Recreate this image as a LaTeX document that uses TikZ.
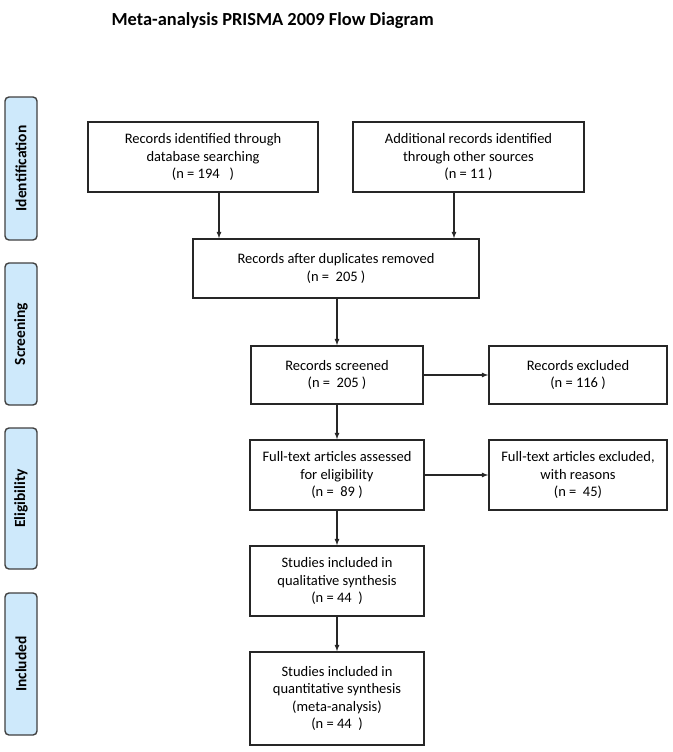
\documentclass[tikz,border=0pt]{standalone}
\usepackage{fontspec}
\setmainfont{Carlito}
\usepackage{tikz}
\usetikzlibrary{arrows,positioning,calc}
\definecolor{phaseblue}{RGB}{206,233,251}

\begin{document}
\begin{tikzpicture}[x=1pt,y=-1pt,>=latex,semithick,
        record/.style={rectangle,draw=black!85,line width=1.4pt,align=center,
          font=\fontsize{14.5}{17.5}\selectfont,inner sep=2pt},
        phase/.style={rectangle,rounded corners=4pt,draw=black!75,line width=1.4pt,
          fill=phaseblue,minimum width=32pt,font=\bfseries\fontsize{15.5}{17}\selectfont},
        flow/.style={->,line width=1.2pt,black!85}]
        \useasboundingbox (0,0) rectangle (672,752);
        \node[anchor=west,font=\bfseries\fontsize{18.4}{21}\selectfont] at (108,21) (title) {Meta-analysis PRISMA 2009 Flow Diagram};
        % phases
        \node[phase,minimum height=143pt] at (21,168.5) (ident) {\rotatebox{90}{Identification}};
        \node[phase,minimum height=142pt] at (21,334) (screen) {\rotatebox{90}{Screening}};
        \node[phase,minimum height=141pt] at (21,498.5) (elig) {\rotatebox{90}{Eligibility}};
        \node[phase,minimum height=142pt] at (21,664) (incl) {\rotatebox{90}{Included}};
        % records
        \node[record,minimum width=230pt,minimum height=70pt] at (203,157) (db) {Records identified through\\database searching\\(n = 194\ \ \ )};
        \node[record,minimum width=231pt,minimum height=70pt] at (468.5,157) (other) {Additional records identified\\through other sources\\(n = 11 )};
        \node[record,minimum width=286pt,minimum height=59pt] at (336,268.5) (dup) {Records after duplicates removed\\(n =\ \ 205 )};
        \node[record,minimum width=172pt,minimum height=58pt] at (337,375) (scr) {Records screened\\(n =\ \ 205 )};
        \node[record,minimum width=178pt,minimum height=58pt] at (578,375) (exc) {Records excluded\\(n = 116 )};
        \node[record,minimum width=174pt,minimum height=70pt] at (337,475) (full) {Full-text articles assessed\\for eligibility\\(n =\ \ 89 )};
        \node[record,minimum width=178pt,minimum height=70pt] at (578,475) (fexc) {Full-text articles excluded,\\with reasons\\(n =\ \ 45)};
        \node[record,minimum width=174pt,minimum height=70pt] at (337,581) (qual) {Studies included in\\qualitative synthesis\\(n = 44\ \ )};
        \node[record,minimum width=174pt,minimum height=93pt] at (337,698.5) (quant) {Studies included in\\quantitative synthesis\\(meta-analysis)\\(n = 44\ \ )};
        % arrows
        \draw[flow] ([xshift=16pt]db.south) -- ([xshift=16pt]db.south |- dup.north);
        \draw[flow] ([xshift=-14.5pt]other.south) -- ([xshift=-14.5pt]other.south |- dup.north);
        \draw[flow] (dup.south -| scr.north) -- (scr.north);
        \draw[flow] (scr) -- (exc);
        \draw[flow] (scr) -- (full);
        \draw[flow] (full) -- (fexc);
        \draw[flow] (full) -- (qual);
        \draw[flow] (qual) -- (quant);
      \end{tikzpicture}
\end{document}
